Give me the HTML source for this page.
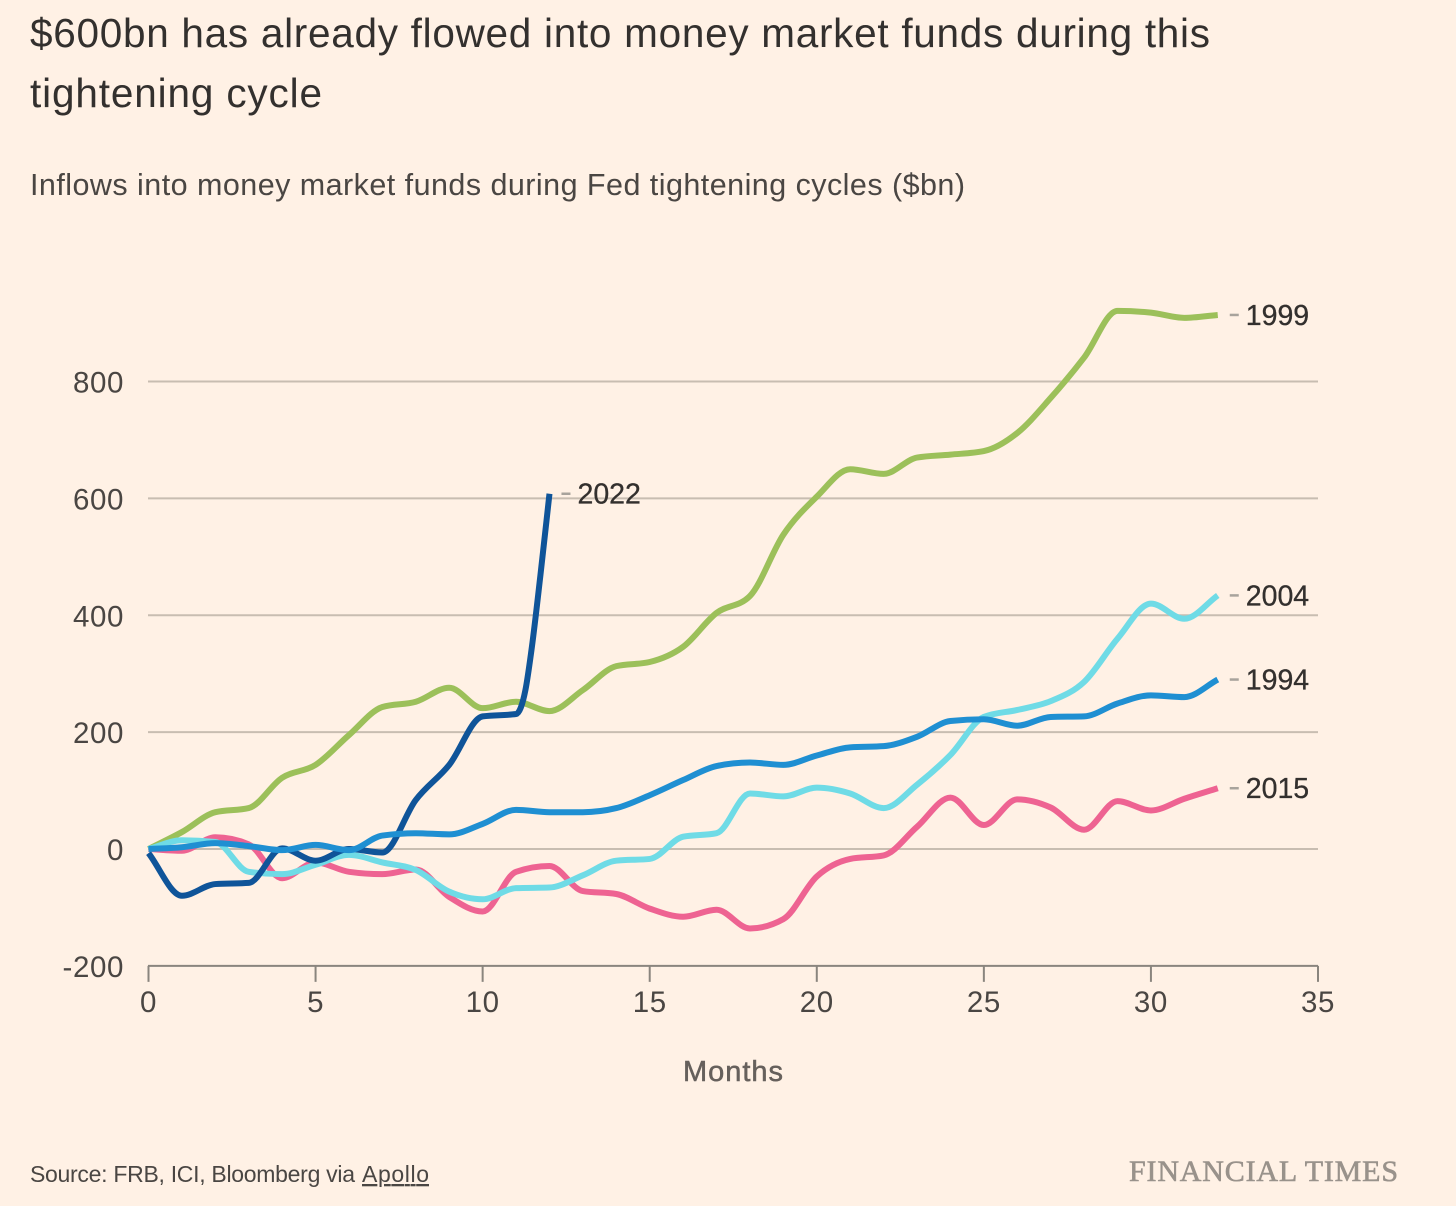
<!DOCTYPE html>
<html lang="en">
<head>
<meta charset="utf-8">
<title>Money market fund inflows</title>
<style>
  html, body { margin: 0; padding: 0; background: #fff1e5; }
  svg { display: block; font-family: "Liberation Sans", sans-serif; }
</style>
</head>
<body>
<svg id="chart" xmlns="http://www.w3.org/2000/svg" width="1456" height="1206" viewBox="0 0 1456 1206">
  <rect x="0" y="0" width="1456" height="1206" fill="#fff1e5"/>
  <text x="30" y="47" font-size="40.5" fill="#33302e" textLength="1180" lengthAdjust="spacing">$600bn has already flowed into money market funds during this</text>
  <text x="30" y="107" font-size="40.5" fill="#33302e" textLength="292" lengthAdjust="spacing">tightening cycle</text>
  <text x="30" y="195" font-size="30.5" fill="#4a4643" textLength="935" lengthAdjust="spacing">Inflows into money market funds during Fed tightening cycles ($bn)</text>
  <g id="grid"></g>
  <g id="yticks"></g>
  <g id="xaxis"></g>
  <g id="lines"></g>
  <g id="labels"></g>
  <text x="733" y="1081" font-size="29" fill="#66605c" stroke="#66605c" stroke-width="0.5" text-anchor="middle" textLength="100" lengthAdjust="spacing">Months</text>
  <text x="30" y="1182" font-size="23" fill="#4a4643" textLength="325" lengthAdjust="spacing">Source: FRB, ICI, Bloomberg via</text>
  <text x="362" y="1182" font-size="23" fill="#4a4643" text-decoration="underline" textLength="67" lengthAdjust="spacing">Apollo</text>
  <text x="1129" y="1181" font-family="'Liberation Serif', serif" font-size="30" fill="#99928b" stroke="#99928b" stroke-width="0.6" textLength="269" lengthAdjust="spacing">FINANCIAL TIMES</text>
</svg>
<script>
const monthsFull = [0,1,2,3,4,5,6,7,8,9,10,11,12,13,14,15,16,17,18,19,20,21,22,23,24,25,26,27,28,29,30,31,32];
const months2022 = [0,1,2,3,4,5,6,7,8,9,10,11,11.28,11.46,11.73,12];
const values1999 = [0,29,63,70,122,144,195,243,252,276,241,252,236,272,313,320,346,404,433,538,603,650,642,670,675,681,712,772,841,921,918,909,914];
const values2022 = [-7,-80,-60,-58,1,-20,0,-6,84,144,227,231,272,340,469,608];
const values2004 = [0,15,12,-39,-43,-27,-10,-23,-36,-73,-86,-67,-66,-45,-20,-17,21,27,95,90,105,95,70,110,161,226,238,253,286,360,420,394,434];
const values1994 = [0,3,10,5,-2,7,-2,23,27,25,43,67,63,63,70,92,118,142,148,144,160,174,176,192,219,222,211,226,227,249,263,260,290];
const values2015 = [0,-3,20,8,-50,-23,-39,-43,-35,-82,-107,-39,-29,-72,-77,-102,-116,-104,-136,-120,-47,-17,-11,38,88,41,85,71,33,82,66,86,104];
const yTickValues = [800,600,400,200,0];
const yBottomValue = -200;
const xTickValues = [0,5,10,15,20,25,30,35];

const SVGNS = 'http://www.w3.org/2000/svg';
const xScale = m => 148.5 + m * (1318 - 148.5) / 35;
const yScale = v => 849 - v * 0.5843;

function make(tag, attrs, parent) {
  const el = document.createElementNS(SVGNS, tag);
  for (const k in attrs) el.setAttribute(k, attrs[k]);
  parent.appendChild(el);
  return el;
}

/* Monotone cubic path (x-monotone spline through the data points) */
function splinePath(xs, ys) {
  const n = xs.length;
  const d = [], h = [], t = new Array(n);
  for (let i = 0; i < n - 1; i++) {
    h[i] = xs[i + 1] - xs[i];
    d[i] = (ys[i + 1] - ys[i]) / h[i];
  }
  t[0] = d[0];
  t[n - 1] = d[n - 2];
  for (let i = 1; i < n - 1; i++) {
    if (d[i - 1] * d[i] <= 0) { t[i] = 0; continue; }
    const p = (d[i - 1] * h[i] + d[i] * h[i - 1]) / (h[i - 1] + h[i]);
    const s = Math.min(Math.abs(d[i - 1]), Math.abs(d[i]), 0.5 * Math.abs(p));
    t[i] = Math.sign(d[i]) * 2 * s;
  }
  let path = 'M' + xs[0].toFixed(2) + ',' + ys[0].toFixed(2);
  for (let i = 0; i < n - 1; i++) {
    const c = h[i] / 3;
    path += 'C' + (xs[i] + c).toFixed(2) + ',' + (ys[i] + t[i] * c).toFixed(2) + ' ' +
            (xs[i + 1] - c).toFixed(2) + ',' + (ys[i + 1] - t[i + 1] * c).toFixed(2) + ' ' +
            xs[i + 1].toFixed(2) + ',' + ys[i + 1].toFixed(2);
  }
  return path;
}

const gridG = document.getElementById('grid');
const yLabelG = document.getElementById('yticks');
yTickValues.forEach(v => {
  const ln = make('line', {x1: 148, x2: 1318, y1: yScale(v), y2: yScale(v), stroke: '#c8bdb1', 'stroke-width': 2}, gridG);
  
  
  const tx = make('text', {x: 124, y: yScale(v) + 11, 'font-size': 29.5, 'letter-spacing': 0.6, fill: '#4a4643', 'text-anchor': 'end'}, yLabelG);
  
  
  tx.textContent = String(v);
});
const bottomLabel = make('text', {x: 124, y: yScale(yBottomValue) + 11, 'font-size': 29.5, 'letter-spacing': 0.6, fill: '#4a4643', 'text-anchor': 'end'}, yLabelG);


bottomLabel.textContent = String(yBottomValue);

const xG = document.getElementById('xaxis');
const axisY = yScale(yBottomValue);
const axisLine = make('line', {x1: 148, x2: 1318, y1: axisY, y2: axisY, stroke: '#8a857e', 'stroke-width': 2}, xG);


xTickValues.forEach(m => {
  const tk = make('line', {x1: xScale(m), x2: xScale(m), y1: axisY, y2: axisY + 16, stroke: '#8a857e', 'stroke-width': 2}, xG);
  
  
  const tx = make('text', {x: xScale(m), y: 1012, 'font-size': 29.5, 'letter-spacing': 0.6, fill: '#4a4643', 'text-anchor': 'middle'}, xG);
  
  
  tx.textContent = String(m);
});

const seriesNames = ['1999', '2015', '2004', '2022', '1994'];
const seriesMonths = [monthsFull, monthsFull, monthsFull, months2022, monthsFull];
const seriesValues = [values1999, values2015, values2004, values2022, values1994];
const seriesColors = ['#9cc05a', '#ee6392', '#6fdbe6', '#0f5499', '#1f8fd2'];

const linesG = document.getElementById('lines');
const labelsG = document.getElementById('labels');
seriesNames.forEach((name, i) => {
  const xs = seriesMonths[i].map(xScale);
  const ys = seriesValues[i].map(yScale);
  const p = make('path', {d: splinePath(xs, ys), fill: 'none', stroke: seriesColors[i], 'stroke-width': 6, 'stroke-linejoin': 'round'}, linesG);
  
  
  const endX = xs[xs.length - 1];
  const endY = ys[ys.length - 1];
  const dash = make('line', {x1: endX + 12, x2: endX + 21, y1: endY, y2: endY, stroke: '#a8a39c', 'stroke-width': 2.5}, labelsG);
  
  
  const tx = make('text', {x: endX + 28, y: endY + 10, 'font-size': 28.5, 'letter-spacing': 0, fill: '#33302e', stroke: '#33302e', 'stroke-width': 0.3}, labelsG);
  
  
  tx.textContent = name;
});
</script>
</body>
</html>
